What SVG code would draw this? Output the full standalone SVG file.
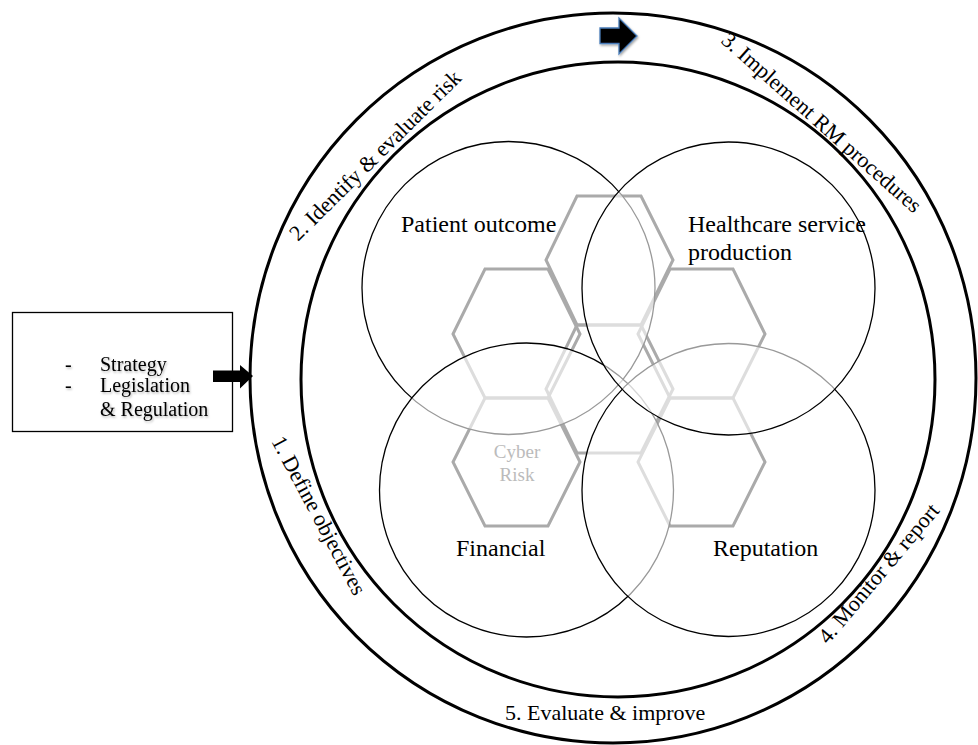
<svg xmlns="http://www.w3.org/2000/svg" width="978" height="745" viewBox="0 0 978 745">
  <defs>
    <style>
      text { font-family: "Liberation Serif", "Times New Roman", serif; fill: #000; }
      .ring { fill: none; stroke: #000; stroke-width: 3; }
      .area { fill: #fff; fill-opacity: 0.6; stroke: #000; stroke-width: 1.3; }
      .hex { fill: none; stroke: #2b2b2b; stroke-width: 3; stroke-linejoin: miter; }
      .lbl { font-size: 24px; }
      .step { font-size: 22px; }
      .boxtxt { font-size: 20px; filter: url(#soft); }
      .cyber { font-size: 19px; fill: #bbbbbb; text-anchor: middle; }
    </style>
    <filter id="soft" x="-10%" y="-30%" width="130%" height="180%">
      <feDropShadow dx="1" dy="1.5" stdDeviation="1" flood-color="#000" flood-opacity="0.3"/>
    </filter>
    <filter id="glow" x="-30%" y="-30%" width="160%" height="160%">
      <feDropShadow dx="1" dy="1.5" stdDeviation="1.2" flood-color="#000" flood-opacity="0.35"/>
    </filter>
  </defs>

  <rect width="978" height="745" fill="#fff"/>

  <!-- process ring -->
  <g id="cycle">
    <ellipse class="ring" cx="613" cy="378" rx="363" ry="365"/>
    <ellipse class="ring" cx="618" cy="379.5" rx="317" ry="317.5"/>
    <text class="step" transform="translate(271,441) rotate(61.9)">1. Define objectives</text>
    <text class="step" transform="translate(298,242) rotate(-44.7)">2. Identify &amp; evaluate risk</text>
    <text class="step" transform="translate(720,42) rotate(41.6)">3. Implement RM procedures</text>
    <text class="step" transform="translate(828,645) rotate(-50)">4. Monitor &amp; report</text>
    <text class="step" x="505" y="720">5. Evaluate &amp; improve</text>
  </g>

  <!-- honeycomb behind the impact areas -->
  <g id="cyber-risk">
    <polygon class="hex" points="577,196 641,196 673,260 641,325 577,325 546,260"/>
    <polygon class="hex" points="485,269 548,269 580,334 548,398 485,398 453,334"/>
    <polygon class="hex" points="670,269 733,269 765,334 733,398 670,398 638,334"/>
    <polygon class="hex" points="577,325 641,325 673,389 641,453 577,453 546,389"/>
    <polygon class="hex" points="485,398 548,398 580,462 548,526 485,526 453,462"/>
    <polygon class="hex" points="670,398 733,398 765,462 733,526 670,526 638,462"/>
  </g>

  <!-- impact areas, translucent so lower outlines fade -->
  <g id="patient-outcome">
    <circle class="area" cx="508.5" cy="288" r="146.5"/>
  </g>
  <g id="financial">
    <circle class="area" cx="526.5" cy="490" r="147"/>
  </g>
  <g id="reputation">
    <circle class="area" cx="728.5" cy="490" r="146.5"/>
  </g>
  <g id="healthcare-service">
    <circle class="area" cx="728.5" cy="288.5" r="146.5"/>
  </g>

  <g id="labels">
    <text class="lbl" x="401" y="232">Patient outcome</text>
    <text class="lbl" x="688" y="232">Healthcare service</text>
    <text class="lbl" x="688" y="260">production</text>
    <text class="lbl" x="456" y="556">Financial</text>
    <text class="lbl" x="713" y="556">Reputation</text>
    <text class="cyber" x="517" y="458">Cyber</text>
    <text class="cyber" x="517" y="481">Risk</text>
  </g>

  <!-- inputs -->
  <g id="inputs">
    <rect x="12.5" y="312.5" width="220" height="119" fill="#fff" stroke="#000" stroke-width="1.3"/>
    <text class="boxtxt" x="65" y="371">-</text>
    <text class="boxtxt" x="100" y="371">Strategy</text>
    <text class="boxtxt" x="65" y="392">-</text>
    <text class="boxtxt" x="100" y="392">Legislation</text>
    <text class="boxtxt" x="100" y="416">&amp; Regulation</text>
  </g>

  <g id="connectors">
    <polygon points="213,370.5 240,370.5 240,365 253,376 240,388.5 240,382 213,382" fill="#000"/>
    <polygon points="600,28 619,28 619,18 637,36 619,54 619,43.5 600,43.5" fill="#000" stroke="#4a7ebb" stroke-width="1.3" stroke-linejoin="miter" filter="url(#glow)"/>
  </g>
</svg>
